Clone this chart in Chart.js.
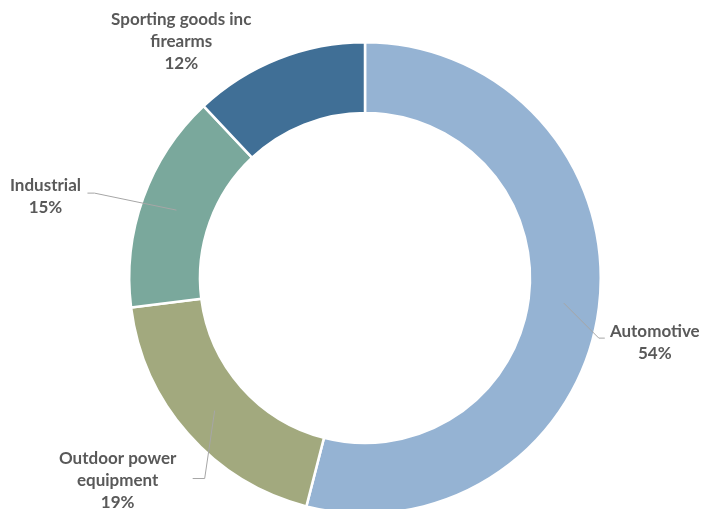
<!DOCTYPE html>
<html>
<head>
<meta charset="utf-8">
<script src="https://cdn.jsdelivr.net/npm/chart.js@4/dist/chart.umd.min.js"></script>
<style>
  html, body { margin: 0; padding: 0; background: #ffffff; overflow: hidden; }
  #wrap { position: relative; width: 705px; height: 520px; }
</style>
</head>
<body>
<div id="wrap"><canvas id="c"></canvas></div>
<script>
// ---- data ----
const categories = ["Automotive", "Outdoor power equipment", "Industrial", "Sporting goods inc firearms"];
const shares = [54, 19, 15, 12];
const labelLines = [["Automotive"], ["Outdoor power", "equipment"], ["Industrial"], ["Sporting goods inc", "firearms"]];

// ---- style ----
const colors = ["#95B3D3", "#A2A97E", "#7AA89C", "#406F96"];
// label layout, offsets relative to the middle of each ring segment
const labelLayout = [
  { elbow: [35, 35], end: [41, 35], text: [91, 28] },
  { elbow: [-10, 68], end: [-22, 68], text: [-97, 48] },
  { elbow: [-82, -17], end: [-89, -17], text: [-131, -25] },
  { elbow: null, end: null, text: [-110, -72] }
];

const labelPlugin = {
  id: 'outLabels',
  afterDatasetsDraw(chart) {
    const ctx = chart.ctx;
    const meta = chart.getDatasetMeta(0);
    const total = shares.reduce((a, b) => a + b, 0);
    ctx.save();
    meta.data.forEach((arc, i) => {
      const p = arc.getProps(['x', 'y', 'startAngle', 'endAngle', 'innerRadius', 'outerRadius'], true);
      const mid = (p.startAngle + p.endAngle) / 2;
      const r = (p.innerRadius + p.outerRadius) / 2;
      const ax = p.x + Math.cos(mid) * r;
      const ay = p.y + Math.sin(mid) * r;
      const L = labelLayout[i];
      if (L.elbow) {
        ctx.beginPath();
        ctx.strokeStyle = '#A6A6A6';
        ctx.lineWidth = 1;
        ctx.moveTo(ax, ay);
        ctx.lineTo(ax + L.elbow[0], ay + L.elbow[1]);
        ctx.lineTo(ax + L.end[0], ay + L.end[1]);
        ctx.stroke();
      }
      const lines = labelLines[i].concat([Math.round(shares[i] / total * 100) + '%']);
      ctx.fillStyle = '#595959';
      ctx.font = 'bold 17px Lato';
      ctx.textAlign = 'center';
      ctx.textBaseline = 'middle';
      lines.forEach((t, k) => {
        ctx.fillText(t, ax + L.text[0], ay + L.text[1] + k * 22);
      });
    });
    ctx.restore();
  }
};

new Chart(document.getElementById('c'), {
  type: 'doughnut',
  data: {
    labels: categories,
    datasets: [{
      data: shares,
      backgroundColor: colors,
      borderColor: '#ffffff',
      borderWidth: 2.5,
      hoverOffset: 0
    }]
  },
  options: {
    responsive: true,
    maintainAspectRatio: false,
    animation: false,
    cutout: '70%',
    layout: { padding: { left: 128, right: 103, top: 40, bottom: 4 } },
    plugins: { legend: { display: false }, tooltip: { enabled: false } }
  },
  plugins: [labelPlugin]
});
</script>
</body>
</html>
